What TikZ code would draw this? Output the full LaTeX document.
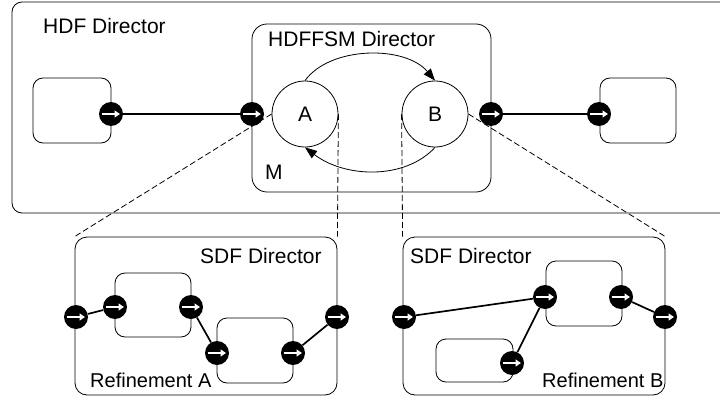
\documentclass[tikz,border=0pt]{standalone}
\usepackage{fontspec}
\setmainfont{Liberation Sans}
\usetikzlibrary{arrows.meta}
\tikzset{
  rbox/.style={draw, line width=0.8pt, rounded corners=#1, inner sep=0pt},
  rbox/.default=10pt,
  port/.style={circle, fill=black, minimum size=24pt, inner sep=0pt,
    path picture={\draw[white, line width=2.2pt, -{Triangle[length=5.5pt,width=7pt]}]
      ([xshift=-9.5pt]path picture bounding box.center) -- ([xshift=9pt]path picture bounding box.center);}},
  state/.style={draw, circle, line width=0.8pt, minimum size=66pt, inner sep=0pt},
  link/.style={line width=1.7pt},
  trans/.style={line width=0.8pt, -{Triangle[length=12pt,width=9pt]}},
  proj/.style={line width=0.8pt, dash pattern=on 6pt off 3pt},
  lbl/.style={inner sep=0pt, font=\fontsize{21}{25}\selectfont},
  lbls/.style={inner sep=0pt, font=\fontsize{20}{24}\selectfont},
}
\begin{document}
\begin{tikzpicture}[x=1pt,y=-1pt]
\useasboundingbox (0,0) rectangle (720,396);
\clip (0,0) rectangle (720,396);
% outer HDF box
\node[rbox=10pt, minimum width=718pt, minimum height=211pt] (hdf) at (371,107.5) {};
\node[lbl, anchor=base west] (hdft) at (43,34) {HDF Director};
% HDFFSM box
\node[rbox=15pt, minimum width=239pt, minimum height=168pt] (fsm) at (371.5,108) {};
\node[lbl, anchor=base west] (fsmt) at (268,47) {HDFFSM Director};
\node[lbl, anchor=base west] (m) at (265,179) {M};
% states
\node[state] (A) at (305,114) {};
\node[lbl] (At) at (305,114) {A};
\node[state] (B) at (435,114) {};
\node[lbl] (Bt) at (435,114) {B};
\draw[trans] (A.north) .. controls (330,46) and (405,45) .. (B.north);
\draw[trans] (B.south) .. controls (405,180) and (345,178) .. (A.south);
% small boxes top level
\node[rbox=10pt, minimum width=78pt, minimum height=65pt] (lbox) at (72,110.5) {};
\node[rbox=10pt, minimum width=76pt, minimum height=65pt] (rbx) at (638,110.5) {};
% refinement boxes
\node[rbox=12pt, minimum width=262pt, minimum height=158pt] (refA) at (206,316) {};
\node[lbl, anchor=base west] (sdfa) at (200,263) {SDF Director};
\node[lbls, anchor=base west] (refat) at (90,387) {Refinement A};
\node[rbox=12pt, minimum width=262pt, minimum height=158pt] (refB) at (534,316) {};
\node[lbl, anchor=base west] (sdfb) at (410,263) {SDF Director};
\node[lbls, anchor=base west] (refbt) at (542,387) {Refinement B};
% inner boxes A
\node[rbox=10pt, minimum width=76pt, minimum height=64pt] (a1) at (153,305) {};
\node[rbox=10pt, minimum width=76pt, minimum height=65pt] (a2) at (255,350.5) {};
% inner boxes B
\node[rbox=10pt, minimum width=76pt, minimum height=65pt] (b1) at (584,293.5) {};
\node[rbox=10pt, minimum width=77pt, minimum height=43pt] (b2) at (474.5,360.5) {};
% dashed projections
\draw[proj] (A.west) -- (refA.north west);
\draw[proj] (A.east) -- (refA.north east);
\draw[proj] (B.west) -- (refB.north west);
\draw[proj] (B.east) -- (refB.north east);
% ports
\node[port] (p1) at (111,114) {};
\node[port] (p2) at (252,114) {};
\node[port] (p3) at (491,114) {};
\node[port] (p4) at (599,114) {};
\node[port] (pa0) at (76,317) {};
\node[port] (pa1) at (115,307) {};
\node[port] (pa2) at (191,307) {};
\node[port] (pa3) at (217,353) {};
\node[port] (pa4) at (293,353) {};
\node[port] (pa5) at (337,317) {};
\node[port] (pb0) at (404,317) {};
\node[port] (pb1) at (545,297) {};
\node[port] (pb2) at (621,297) {};
\node[port] (pb3) at (512,363) {};
\node[port] (pb4) at (665,317) {};
% links
\draw[link] (p1) -- (p2);
\draw[link] (p3) -- (p4);
\draw[link] (pa0) -- (pa1);
\draw[link] (pa2) -- (pa3);
\draw[link] (pa4) -- (pa5);
\draw[link] (pb0) -- (pb1);
\draw[link] (pb3) -- (pb1);
\draw[link] (pb2) -- (pb4);
\end{tikzpicture}
\end{document}
